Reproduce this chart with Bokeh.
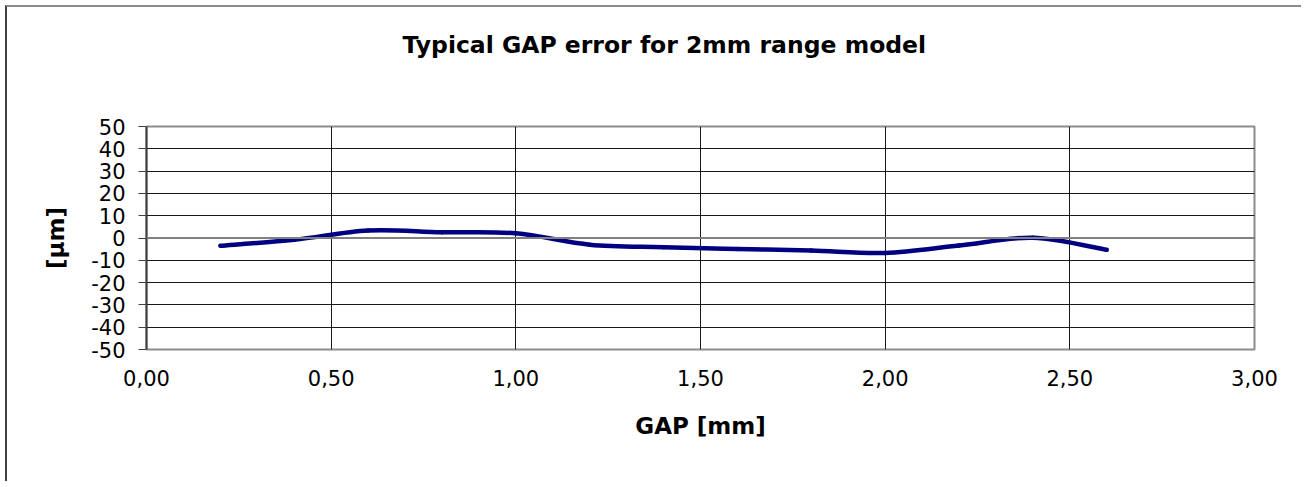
from bokeh.plotting import figure
from bokeh.models import FixedTicker, Span, Range1d, InlineStyleSheet, Title
from bokeh.embed import file_html
from bokeh.resources import INLINE

# ---- data ----
gap_mm = [0.2, 0.4, 0.6, 0.8, 1.0, 1.2, 1.4, 1.6, 1.8, 2.0, 2.2, 2.4, 2.6]
error_um = [-3.5, -0.8, 3.4, 2.6, 2.1, -3.0, -4.1, -4.9, -5.6, -6.7, -3.4, 0.1, -5.3]

x_ticks = [0.0, 0.5, 1.0, 1.5, 2.0, 2.5, 3.0]
x_tick_labels = ["0,00", "0,50", "1,00", "1,50", "2,00", "2,50", "3,00"]
y_ticks = [-50, -40, -30, -20, -10, 0, 10, 20, 30, 40, 50]
y_tick_labels = ["-50", "-40", "-30", "-20", "-10", "0", "10", "20", "30", "40", "50"]

title_text = "Typical GAP error for 2mm range model"
x_title = "GAP [mm]"
y_title = "[µm]"

FONT = "DejaVu Sans"

# smoothed-line bezier segments (Catmull-Rom style, like a spreadsheet "smoothed line")
n = len(gap_mm)
bx0, by0, bx1, by1, bcx0, bcy0, bcx1, bcy1 = ([] for _ in range(8))
for i in range(n - 1):
    xp, yp = (gap_mm[i - 1], error_um[i - 1]) if i > 0 else (gap_mm[i], error_um[i])
    xn, yn = (gap_mm[i + 2], error_um[i + 2]) if i + 2 < n else (gap_mm[i + 1], error_um[i + 1])
    bx0.append(gap_mm[i]); by0.append(error_um[i])
    bx1.append(gap_mm[i + 1]); by1.append(error_um[i + 1])
    bcx0.append(gap_mm[i] + (gap_mm[i + 1] - xp) / 6.0)
    bcy0.append(error_um[i] + (error_um[i + 1] - yp) / 6.0)
    bcx1.append(gap_mm[i + 1] - (xn - gap_mm[i]) / 6.0)
    bcy1.append(error_um[i + 1] - (yn - error_um[i]) / 6.0)

p = figure(
    width=1296, height=476,
    output_backend="svg", toolbar_location=None,
    x_range=Range1d(x_ticks[0], x_ticks[-1]), y_range=Range1d(y_ticks[0], y_ticks[-1]),
    min_border_left=139, min_border_right=49,
    min_border_top=119, min_border_bottom=134,
)
p.stylesheets = [InlineStyleSheet(css=":host { margin-left: 5px; margin-top: 5px; "
                                      "border-top: 2px solid #8c8c8c; border-left: 2px solid #404040; }")]

# empty spacer between frame and chart title, then the title itself
p.add_layout(Title(text=" ", text_font=FONT, text_font_size="10px", standoff=50), "above")
p.add_layout(Title(text=title_text, text_font=FONT, text_font_size="23.5px",
                   text_font_style="bold", text_color="black",
                   align="left", offset=256, standoff=10), "above")

p.outline_line_color = "#8c8c8c"
p.outline_line_width = 2
p.background_fill_color = "white"
p.border_fill_color = "white"

# axes
p.xaxis.ticker = FixedTicker(ticks=x_ticks)
p.xaxis.major_label_overrides = {t: l for t, l in zip(x_ticks, x_tick_labels)}
p.yaxis.ticker = FixedTicker(ticks=y_ticks)
p.yaxis.major_label_overrides = {t: l for t, l in zip(y_ticks, y_tick_labels)}
for ax in (p.xaxis, p.yaxis):
    ax.major_label_text_font = FONT
    ax.major_label_text_font_size = "21px"
    ax.major_label_text_color = "black"
    ax.axis_label_text_font = FONT
    ax.axis_label_text_font_size = "23px"
    ax.axis_label_text_font_style = "bold"
    ax.axis_label_text_color = "black"
    ax.minor_tick_line_color = None

p.xaxis.axis_label = x_title
p.xaxis.axis_line_color = None
p.xaxis.major_tick_line_color = None
p.xaxis.major_label_standoff = 14
p.xaxis.axis_label_standoff = 24

p.yaxis.axis_label = y_title
p.yaxis.axis_line_color = "#404040"
p.yaxis.axis_line_width = 2
p.yaxis.major_tick_line_color = "#404040"
p.yaxis.major_tick_out = 8
p.yaxis.major_tick_in = 0
p.yaxis.major_label_standoff = 13
p.yaxis.axis_label_standoff = 19

# grid
p.xgrid.ticker = FixedTicker(ticks=x_ticks)
p.ygrid.ticker = FixedTicker(ticks=y_ticks)
p.grid.grid_line_color = "black"
p.grid.grid_line_width = 1
p.grid.grid_line_alpha = 0.9

p.add_layout(Span(location=0, dimension="width", line_color="#808080", line_width=2))

p.bezier(x0=bx0, y0=by0, x1=bx1, y1=by1, cx0=bcx0, cy0=bcy0, cx1=bcx1, cy1=bcy1,
         line_color="#000080", line_width=4.5, line_cap="round")

open("out.html", "w").write(file_html(p, INLINE))
